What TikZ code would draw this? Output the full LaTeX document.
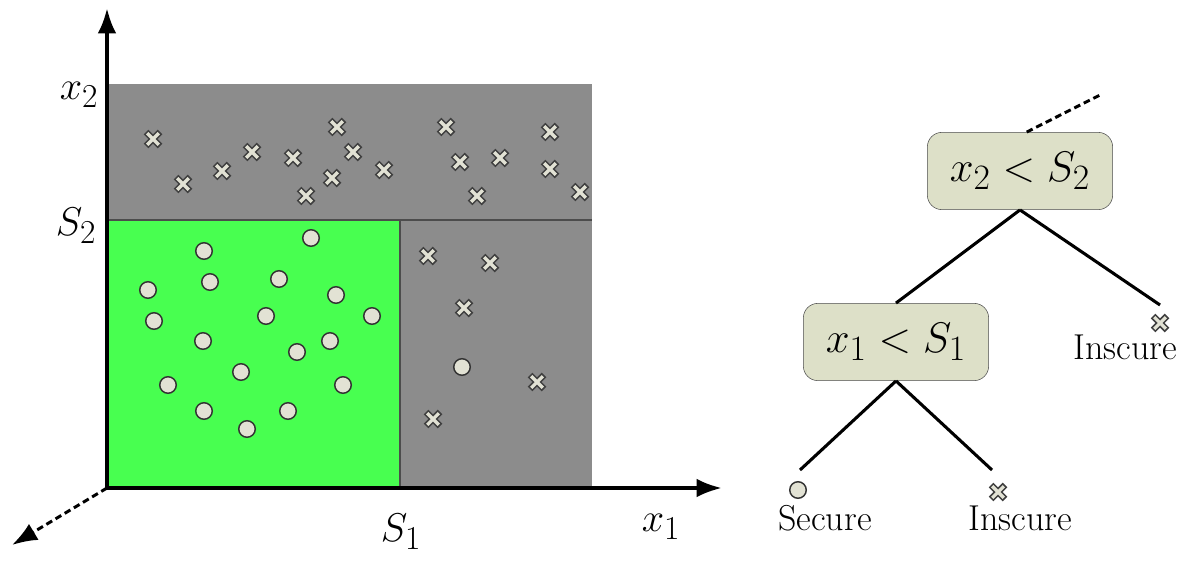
\documentclass[tikz,border=0pt]{standalone}
\usetikzlibrary{arrows.meta,positioning}

\definecolor{regiongris}{RGB}{140,140,140}
\definecolor{regionverde}{RGB}{72,255,80}
\definecolor{cajaverde}{RGB}{221,224,200}
\definecolor{marca}{RGB}{226,226,212}

% marcas: inseguro (cruz) y seguro (bola)
\newcommand{\cruz}[1]{%
  \draw[black!75, line width=4.8pt] #1 ++(-7,-7) -- ++(14,14) #1 ++(-7,7) -- ++(14,-14);
  \draw[marca, line width=2.4pt] #1 ++(-5.8,-5.8) -- ++(11.6,11.6) #1 ++(-5.8,5.8) -- ++(11.6,-11.6);}
\newcommand{\bola}[1]{%
  \filldraw[fill=marca, draw=black!80, line width=1.1pt] #1 circle (6.2pt);}

% textos grandes (las fuentes CM llegan hasta 24.88pt)
\newcommand{\ejetxt}[1]{\scalebox{1.21}{#1}}
\newcommand{\cajatxt}[1]{\scalebox{1.29}{#1}}
\newcommand{\hojatxt}[1]{\scalebox{1.085}{#1}}

\tikzset{
  caja/.style={draw=black!70, fill=cajaverde, rounded corners=11pt,
    minimum width=139pt, minimum height=58pt, font=\Huge},
  hoja/.style={font=\Huge, inner sep=0pt},
  rama/.style={line width=2.3pt},
  eje/.style={line width=3pt, -{Latex[length=19pt,width=14pt]}},
  etiq/.style={font=\Huge, inner sep=0pt},
}

\begin{document}
\begin{tikzpicture}[x=0.75pt, y=-0.75pt]
  \useasboundingbox (0,0) rectangle (1180,560);

  % Regiones del plano
  \fill[regiongris]  (107,84)  rectangle (592,488);
  \fill[regionverde] (107,220) rectangle (400,488);
  \draw[black!70, line width=1.1pt] (107,220) -- (592,220) (400,220) -- (400,488);

  % Ejes
  \coordinate (o)    at (107,488);
  \coordinate (ytop) at (107,8);
  \coordinate (xfin) at (722,488);
  \coordinate (zfin) at (12,545);
  \draw[eje] (o) -- (ytop);
  \draw[eje] (o) -- (xfin);
  \draw[line width=2.2pt, dash pattern=on 5pt off 3pt, -{Latex[length=19pt,width=14pt]}] (o) -- (zfin);

  % Etiquetas de ejes y umbrales
  \node[etiq] (lx2) at (79,95)  {\ejetxt{$x_2$}};
  \node[etiq] (ls2) at (76,226) {\ejetxt{$S_2$}};
  \node[etiq] (ls1) at (401,532) {\ejetxt{$S_1$}};
  \node[etiq] (lx1) at (661,527) {\ejetxt{$x_1$}};

  % Muestras inseguras
  \foreach \p in {(153,139),(183,184),(222,171),(252,152),(293,158),(337,127),
                  (353,152),(332,178),(306,196),(384,170),(446,127),(460,162),
                  (500,158),(477,196),(550,132),(550,169),(580,192),
                  (428,256),(490,263),(464,308),(537,382),(433,419)}
    {\cruz{\p}}

  % Muestras seguras
  \foreach \p in {(311,238),(204,251),(210,282),(279,279),(148,290),(336,295),
                  (154,321),(266,316),(372,316),(203,341),(330,341),(297,352),
                  (241,372),(168,385),(343,385),(204,411),(288,411),(247,429),
                  (462,367)}
    {\bola{\p}}

  % Arbol de decision
  \node[caja] (n2) at (1020,171) {\cajatxt{$x_2<S_2$}};
  \node[caja] (n1) at (896,342)  {\cajatxt{$x_1<S_1$}};

  \coordinate (arriba) at (1100,95);
  \draw[line width=2.2pt, dash pattern=on 5pt off 3pt] ([xshift=5pt]n2.north) -- (arriba);

  \coordinate (fder) at (1160,305);
  \coordinate (fsec) at (800,470);
  \coordinate (fins) at (992,470);
  \draw[rama] (n2.south) -- (n1.north);
  \draw[rama] (n2.south) -- (fder);
  \draw[rama] (n1.south) -- (fsec);
  \draw[rama] (n1.south) -- (fins);

  % Hojas
  \cruz{(1160,323)}
  \bola{(798,490)}
  \cruz{(998,492)}
  \node[hoja] (tder) at (1125,347) {\hojatxt{Inscure}};
  \node[hoja] (tsec) at (825,518)  {\hojatxt{Secure}};
  \node[hoja] (tins) at (1020,518) {\hojatxt{Inscure}};
\end{tikzpicture}
\end{document}
